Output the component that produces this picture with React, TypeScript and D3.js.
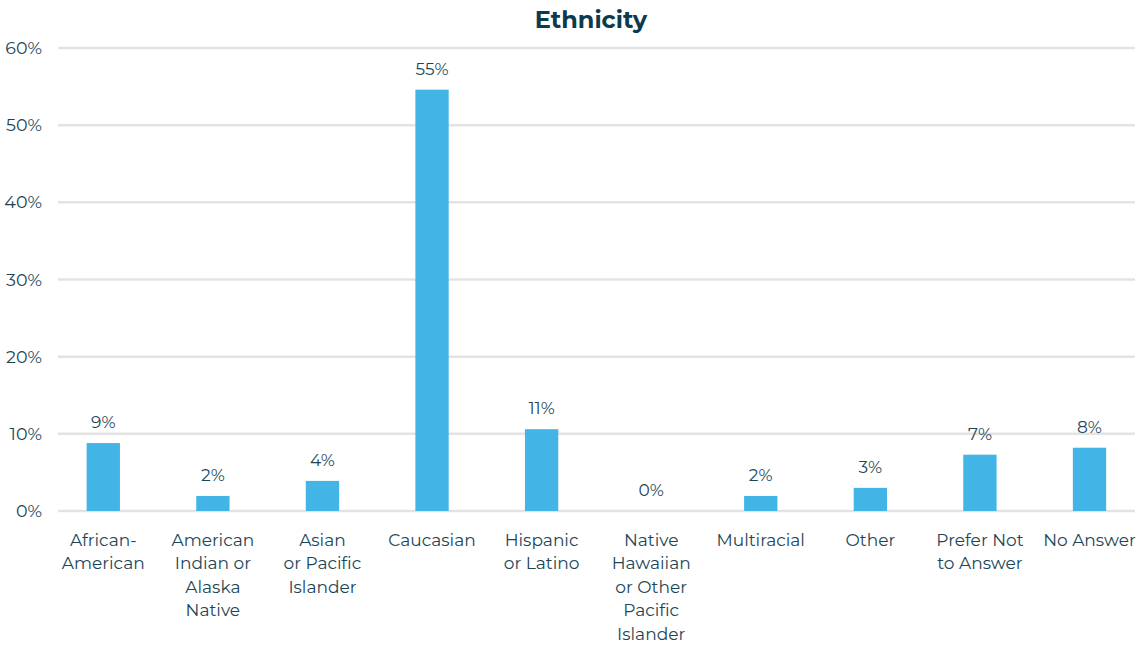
import React from "react";
import * as d3 from "d3";

const categories: string[][] = [
  ["African-", "American"],
  ["American", "Indian or", "Alaska", "Native"],
  ["Asian", "or Pacific", "Islander"],
  ["Caucasian"],
  ["Hispanic", "or Latino"],
  ["Native", "Hawaiian", "or Other", "Pacific", "Islander"],
  ["Multiracial"],
  ["Other"],
  ["Prefer Not", "to Answer"],
  ["No Answer"],
];
const values: number[] = [8.8, 1.95, 3.9, 54.6, 10.6, 0, 1.95, 3.0, 7.3, 8.2];
const valueLabels: string[] = ["9%", "2%", "4%", "55%", "11%", "0%", "2%", "3%", "7%", "8%"];
const yTicks: number[] = [0, 10, 20, 30, 40, 50, 60];

const W = 1140;
const H = 649;
const FONT = "Montserrat, 'Open Sans', sans-serif";
const TEXT = "#1c4656";

export default function App() {
  const x = d3
    .scaleBand<number>()
    .domain(d3.range(categories.length))
    .range([48.5, 1144.3])
    .paddingInner(0.696)
    .paddingOuter(0.348);
  const y = d3.scaleLinear().domain([0, 60]).range([511, 48]);
  const gridX1 = 58;
  const gridX2 = 1135;

  return (
    <svg width={W} height={H} style={{ position: "absolute", left: 0, top: 0, background: "#fff" }}>
      <text x={591} y={28} textAnchor="middle" fontFamily={FONT} fontWeight={700} fontSize={24} fill="#0d3b4d">
        Ethnicity
      </text>
      {yTicks.map((t) => (
        <g key={t}>
          <line x1={gridX1} x2={gridX2} y1={y(t)} y2={y(t)} stroke="#e3e3e3" strokeWidth={2.5} />
          <text x={42} y={y(t)} dy="0.35em" textAnchor="end" fontFamily={FONT} fontSize={17.5} fill={TEXT}>
            {t}%
          </text>
        </g>
      ))}
      {values.map((v, i) => {
        const bx = x(i)!;
        const bw = x.bandwidth();
        const cx = bx + bw / 2;
        return (
          <g key={i}>
            {v > 0 && <rect x={bx} y={y(v)} width={bw} height={y(0) - y(v)} fill="#42b4e6" />}
            <text x={cx} y={y(v) - 15} textAnchor="middle" fontFamily={FONT} fontSize={17} fill={TEXT}>
              {valueLabels[i]}
            </text>
            {categories[i].map((line, j) => (
              <text
                key={j}
                x={cx}
                y={546 + j * 23.4}
                textAnchor="middle"
                fontFamily={FONT}
                fontSize={17}
                fill={TEXT}
              >
                {line}
              </text>
            ))}
          </g>
        );
      })}
    </svg>
  );
}
